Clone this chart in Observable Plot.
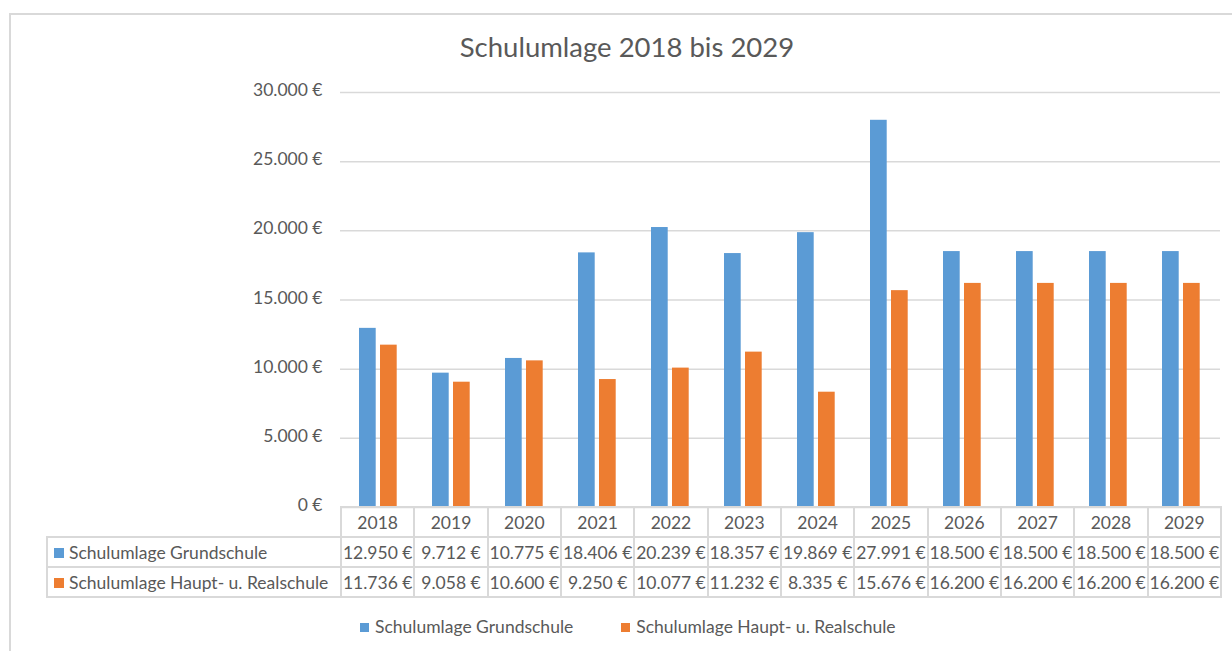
<!DOCTYPE html>
<html><head><meta charset="utf-8">
<script src="https://cdn.jsdelivr.net/npm/d3@7"></script>
<script src="https://cdn.jsdelivr.net/npm/@observablehq/plot@0.6"></script>
<style>
body{margin:0;background:#fff;font-family:Lato,"Open Sans",sans-serif;color:#595959}
#wrap{position:relative;width:1232px;height:651px;overflow:hidden;background:#fff}
#frame{position:absolute;left:9px;top:13px;width:1300px;height:700px;border-left:2px solid #d9d9d9;border-top:2px solid #d9d9d9}
#title{position:absolute;left:0;width:1254px;top:30px;text-align:center;font-size:27.5px;color:#595959}
#chart{position:absolute;left:0;top:0}
#tbl{position:absolute;left:46px;top:506px;border-collapse:collapse;table-layout:fixed;width:1174px;font-size:17.5px;color:#595959}
#tbl td{border:2px solid #d9d9d9;height:28px;padding:0;text-align:center;white-space:nowrap;overflow:hidden}
#tbl td.lab{text-align:left;padding-left:6px}
#tbl td.empty{border-top:none;border-left:none}
.sw{display:inline-block;width:10px;height:10px;margin-right:5px;vertical-align:1px}
#legend{position:absolute;left:360px;top:616px;display:flex;gap:48px;font-size:17.5px;color:#595959}
#legend .sw{width:9px;height:9px;margin-right:6px}
</style>
</head><body>
<div id="wrap">
  <div id="frame"></div>
  <div id="title"></div>
  <div id="chart"></div>
  <table id="tbl"></table>
  <div id="legend"></div>
</div>
<script>
const title = "Schulumlage 2018 bis 2029";
const years = ["2018","2019","2020","2021","2022","2023","2024","2025","2026","2027","2028","2029"];
const seriesNames = ["Schulumlage Grundschule", "Schulumlage Haupt- u. Realschule"];
const grundschule = [12950, 9712, 10775, 18406, 20239, 18357, 19869, 27991, 18500, 18500, 18500, 18500];
const hauptReal = [11736, 9058, 10600, 9250, 10077, 11232, 8335, 15676, 16200, 16200, 16200, 16200];
const yTicks = [0, 5000, 10000, 15000, 20000, 25000, 30000];
const colors = ["#5b9bd5", "#ed7d31"];

const de = d3.formatLocale({decimal: ",", thousands: ".", grouping: [3], currency: ["", " €"]});
const fmt = d => de.format(",")(d) + " €";

const rows = years.map((y, i) => ({year: y, g: grundschule[i], h: hauptReal[i]}));

document.getElementById("title").textContent = title;

const chart = Plot.plot({
  width: 1232, height: 525,
  marginTop: 92, marginBottom: 18, marginLeft: 340, marginRight: 12,
  x: {type: "band", domain: years, padding: 0, axis: null},
  y: {domain: [0, 30000], axis: null},
  style: {fontFamily: "Lato, 'Open Sans', sans-serif", fontSize: "17.5px", color: "#595959", background: "transparent"},
  marks: [
    Plot.gridY(yTicks, {stroke: "#d9d9d9", strokeOpacity: 1, strokeWidth: 1.5}),
    Plot.axisY(yTicks, {tickSize: 0, tickPadding: 18, tickFormat: fmt, fill: "#595959", fontSize: 17.5, dy: -2}),
    Plot.barY(rows, {x: "year", y: "g", fill: colors[0], insetLeft: 17, insetRight: 39.3}),
    Plot.barY(rows, {x: "year", y: "h", fill: colors[1], insetLeft: 38, insetRight: 18.3})
  ]
});
document.getElementById("chart").appendChild(chart);

// data table under the chart
const tbl = document.getElementById("tbl");
let html = '<colgroup><col style="width:294px">' + years.map(() => '<col style="width:73.33px">').join("") + '</colgroup>';
html += '<tr><td class="empty"></td>' + years.map(y => `<td>${y}</td>`).join("") + '</tr>';
[grundschule, hauptReal].forEach((vals, si) => {
  html += `<tr><td class="lab"><span class="sw" style="background:${colors[si]}"></span>${seriesNames[si]}</td>` +
    vals.map(v => `<td>${fmt(v)}</td>`).join("") + '</tr>';
});
tbl.innerHTML = html;

// legend
document.getElementById("legend").innerHTML = seriesNames.map((n, i) =>
  `<div><span class="sw" style="background:${colors[i]}"></span>${n}</div>`).join("");
</script>
</body></html>
